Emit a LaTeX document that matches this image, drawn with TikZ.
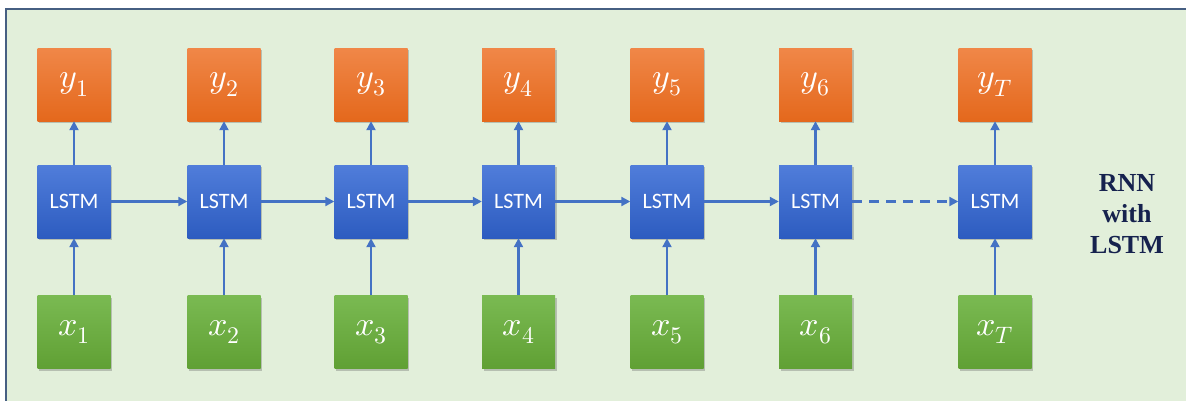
\documentclass[tikz,border=0pt]{standalone}
\usepackage{fontspec}
\usepackage{unicode-math}
\newfontfamily\carl{Carlito}
\newfontfamily\tnr{Liberation Serif}
\usetikzlibrary{shadows,arrows.meta}
\definecolor{bgc}{RGB}{226,239,218}
\definecolor{framec}{RGB}{70,95,130}
\definecolor{arrc}{RGB}{68,114,196}
\definecolor{navy}{RGB}{22,34,78}
\definecolor{ortop}{RGB}{240,135,72}
\definecolor{orbot}{RGB}{228,104,28}
\definecolor{bltop}{RGB}{80,125,218}
\definecolor{blbot}{RGB}{45,92,192}
\definecolor{grtop}{RGB}{122,186,82}
\definecolor{grbot}{RGB}{96,160,52}
\tikzset{
  cell/.style={minimum width=73pt,minimum height=73pt,inner sep=0pt,text=white,
    drop shadow={shadow xshift=1.5pt,shadow yshift=-2pt,opacity=0.35,fill=black!60}},
  ybox/.style={cell,top color=ortop,bottom color=orbot,font=\fontsize{34}{34}\selectfont},
  hbox/.style={cell,top color=bltop,bottom color=blbot,font=\carl\fontsize{22}{22}\selectfont},
  xbox/.style={cell,top color=grtop,bottom color=grbot,font=\fontsize{34}{34}\selectfont},
  conn/.style={draw=arrc,line width=2.2pt,-{Triangle[length=9pt,width=9pt]}}
}
\begin{document}
\begin{tikzpicture}[x=1pt,y=-1pt]
\useasboundingbox (0,0) rectangle (1186,400);
\fill[white] (0,0) rectangle (1186,400);
\fill[bgc] (6,9) rectangle (1190,405);
\draw[framec,line width=1.2pt] (6,405) -- (6,9) -- (1190,9);
\foreach \i/\cx/\lab in {1/74/1,2/224/2,3/371/3,4/518.5/4,5/667/5,6/815.5/6,7/995/T}{
  \node[ybox] (y\i) at (\cx,84.5) {$y_{\lab}$};
  \node[hbox] (h\i) at (\cx,201.5) {LSTM};
  \node[xbox] (x\i) at (\cx,332) {$x_{\lab}$};
  \draw[conn] (x\i) -- (h\i);
  \draw[conn] (h\i) -- (y\i);
}
\foreach \a/\b in {1/2,2/3,3/4,4/5,5/6}{
  \draw[conn] (h\a) -- (h\b);
}
\draw[conn,dash pattern=on 10pt off 7pt] (h6) -- (h7);
\node[text=navy,font=\tnr\bfseries\fontsize{26}{31}\selectfont,align=center] (lbl) at (1127,214) {RNN\\with\\LSTM};
\end{tikzpicture}
\end{document}
